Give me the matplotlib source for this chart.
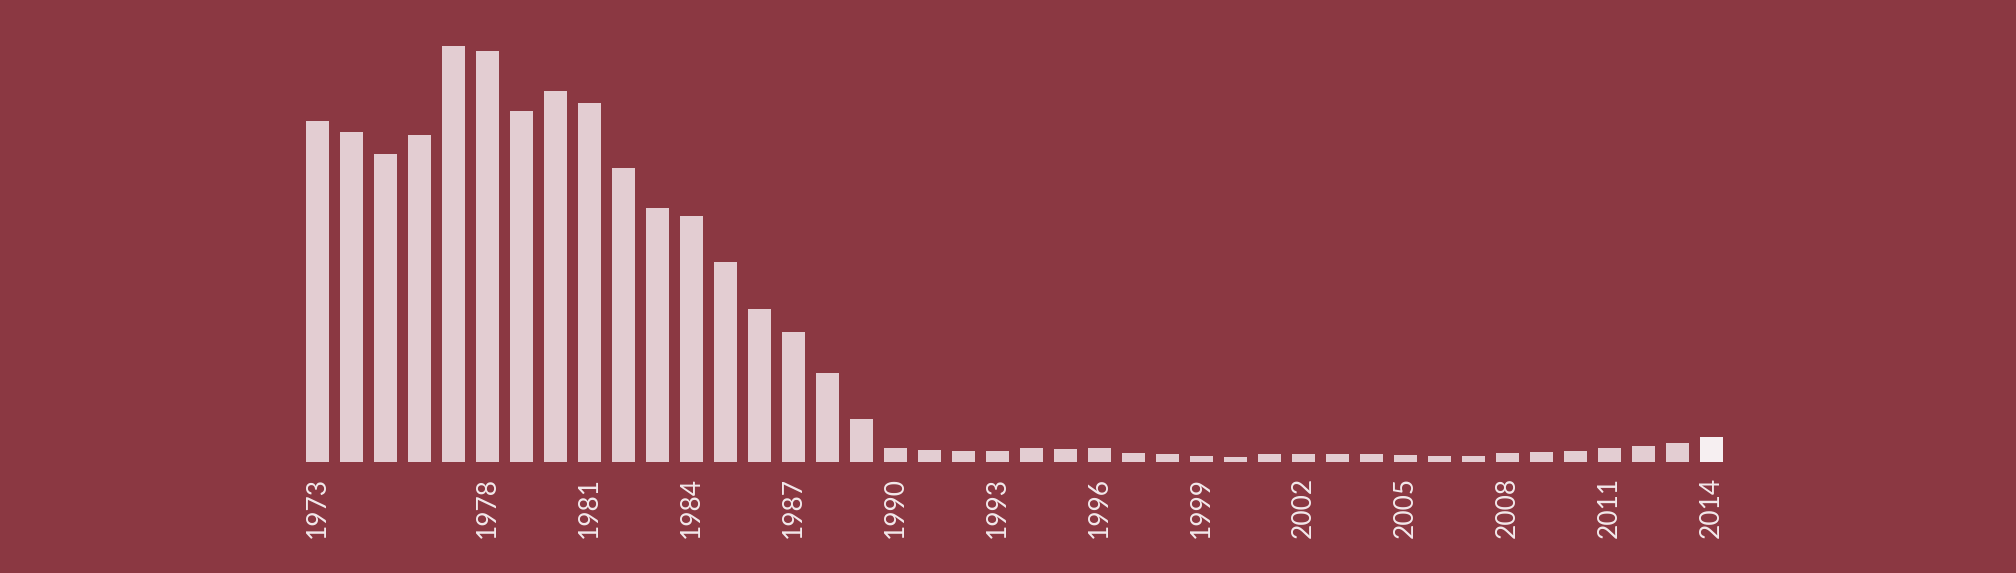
import matplotlib.pyplot as plt

years = list(range(1973, 2015))
values = [340.5, 329.5, 307.5, 326.5, 415.5, 410.5, 350.5, 370.5, 358.5, 293.5,
          253.5, 245.5, 199.5, 152.5, 129.5, 88.5, 42.7, 13.7, 11.7, 10.7,
          10.7, 13.7, 12.7, 13.7, 8.7, 7.7, 5.7, 4.7, 7.7, 7.7,
          7.7, 7.7, 6.7, 5.7, 5.7, 8.7, 9.7, 10.7, 13.7, 15.7,
          18.7, 24.7]
label_years = [1973, 1978, 1981, 1984, 1987, 1990, 1993, 1996, 1999,
               2002, 2005, 2008, 2011, 2014]

bg = "#8b3842"
bar_color = "#e3cdd2"
last_color = "#f6eff1"

fig = plt.figure(figsize=(20.16, 5.73), dpi=100, facecolor=bg)
ax = fig.add_axes([0, 1 - 461.7 / 573, 1, 461.7 / 573])
ax.set_facecolor(bg)

colors = [bar_color] * (len(years) - 1) + [last_color]
idx = list(range(len(years)))
ax.bar(idx, values, width=0.68, color=colors)

ax.set_xlim(-9.34, 49.96)
ax.set_ylim(0, 461.7)

ax.set_xticks([years.index(y) for y in label_years])
ax.set_xticklabels([str(y) for y in label_years], rotation=90, va="top",
                   ha="center", fontsize=19, color="#f3e9eb", family="Lato")
ax.tick_params(axis="x", length=0, pad=11)
ax.set_yticks([])
for s in ax.spines.values():
    s.set_visible(False)

fig.savefig("out.png", dpi=100, facecolor=bg)
